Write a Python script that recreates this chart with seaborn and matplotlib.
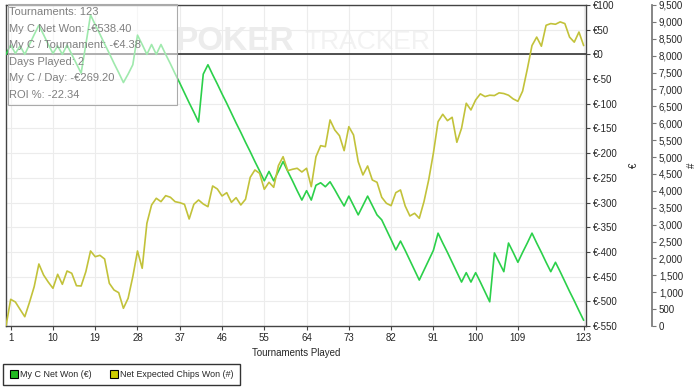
import matplotlib
matplotlib.use("Agg")
import matplotlib.pyplot as plt
import seaborn as sns
import pandas as pd
from matplotlib.lines import Line2D
from matplotlib.patches import Rectangle

# --- Data ---
TOURNAMENTS = list(range(0, 124))

NET_WON = [
    0, 19, 2, 17, 0, 20, 40, 59, 40, 20,
    2, 17, 0, 19, 0, -19, -38, 20, 80, 60,
    41, 21, 2, -18, -37, -57, -40, -21, 39, 20,
    0, 20, 0, 20, 0, -19, -39, -58, -78, -98,
    -117, -137, -40, -21, -41, -60, -80, -99, -119, -139,
    -158, -178, -197, -217, -236, -256, -237, -256, -237, -217,
    -237, -256, -276, -295, -276, -295, -265, -260, -268, -258,
    -274, -291, -307, -287, -306, -325, -306, -287, -306, -325,
    -335, -355, -375, -396, -378, -397, -417, -437, -457, -437,
    -417, -397, -362, -382, -401, -421, -441, -461, -442, -461,
    -442, -461, -481, -501, -402, -421, -440, -382, -401, -421,
    -401, -382, -362, -382, -401, -421, -440, -421, -440, -460,
    -480, -499, -519, -538.4,
]

EXPECTED_CHIPS = [
    0, 790, 710, 490, 275, 700, 1163, 1835, 1510, 1300,
    1116, 1530, 1234, 1628, 1560, 1193, 1184, 1607, 2220, 2051,
    2092, 1983, 1264, 1066, 986, 524, 820, 1460, 2220, 1708,
    3040, 3582, 3780, 3680, 3857, 3810, 3680, 3650, 3602, 3167,
    3602, 3730, 3611, 3531, 4144, 4055, 3848, 3946, 3661, 3798,
    3582, 3750, 4400, 4618, 4520, 4046, 4253, 4105, 4745, 5011,
    4597, 4638, 4668, 4558, 4668, 4123, 5011, 5337, 5307, 6098,
    5802, 5633, 5189, 5899, 5654, 4863, 4470, 4736, 4322, 4253,
    3810, 3632, 3561, 3946, 4026, 3552, 3256, 3336, 3188, 3680,
    4322, 5112, 6047, 6266, 6077, 6177, 5437, 5852, 6592, 6394,
    6690, 6870, 6790, 6830, 6820, 6900, 6880, 6830, 6720, 6650,
    6950, 7600, 8300, 8550, 8280, 8900, 8950, 8930, 9000, 8950,
    8550, 8400, 8700, 8300,
]

X_TICKS = [1, 10, 19, 28, 37, 46, 55, 64, 73, 82, 91, 100, 109, 123]
EURO_TICKS = list(range(-550, 101, 50))
CHIP_TICKS = list(range(0, 9501, 500))

INFO_LINES = [
    "Tournaments: 123",
    "My C Net Won: -€538.40",
    "My C / Tournament: -€4.38",
    "Days Played: 2",
    "My C / Day: -€269.20",
    "ROI %: -22.34",
]

GREEN = "#2bd04a"
YELLOW = "#c2c23a"


def main():
    df = pd.DataFrame({
        "Tournament": TOURNAMENTS,
        "NetWon": NET_WON,
        "Chips": EXPECTED_CHIPS,
    })

    sns.set_theme(style="white")
    plt.rcParams["font.family"] = ["Liberation Sans", "DejaVu Sans"]

    fig = plt.figure(figsize=(7, 3.9), dpi=100)
    ax = fig.add_axes([6 / 700, 1 - 326 / 390, 580 / 700, 321 / 390])
    ax2 = ax.twinx()

    # watermark behind everything
    ax.text(0.292, 0.885, "POKER", transform=ax.transAxes, fontsize=24,
            fontweight="bold", color="#ececec", ha="left", va="center", zorder=0)
    ax.text(0.515, 0.885, "TRACKER", transform=ax.transAxes, fontsize=19,
            color="#f2f2f2", ha="left", va="center", zorder=0)

    # grid
    for x in X_TICKS:
        ax.axvline(x, color="#ececec", lw=0.8, zorder=1)
    for y in EURO_TICKS:
        ax.axhline(y, color="#ececec", lw=0.8, zorder=1)
    ax.axhline(0, color="#333333", lw=1.2, zorder=2)

    sns.lineplot(data=df, x="Tournament", y="NetWon", ax=ax, color=GREEN,
                 lw=1.2, zorder=3)
    sns.lineplot(data=df, x="Tournament", y="Chips", ax=ax2, color=YELLOW,
                 lw=1.2, zorder=3)

    ax.set_xlim(0, 123.5)
    ax.set_ylim(-550, 100)
    ax2.set_ylim(0, 9500)

    ax.set_xticks(X_TICKS)
    ax.set_xticklabels([str(t) for t in X_TICKS])
    ax.set_xlabel("Tournaments Played", fontsize=7)
    ax.xaxis.set_label_coords(0.5, -0.07)

    ax.yaxis.tick_right()
    ax.yaxis.set_label_position("right")
    ax.set_yticks(EURO_TICKS)
    ax.set_yticklabels([f"€{v}" for v in EURO_TICKS])
    ax.set_ylabel("€", fontsize=7, rotation=90, labelpad=8)

    ax2.set_yticks(CHIP_TICKS)
    ax2.set_yticklabels([f"{v:,}" for v in CHIP_TICKS])
    ax2.set_ylabel("#", fontsize=7, rotation=90, labelpad=3)
    ax2.spines["right"].set_position(("outward", 47.5))
    ax2.spines["right"].set_color("#777777")
    for s in ["left", "top", "bottom"]:
        ax2.spines[s].set_visible(False)

    for s in ax.spines.values():
        s.set_color("#444444")
        s.set_linewidth(1.0)

    ax.tick_params(axis="x", direction="out", length=3, width=0.8,
                   color="#444444", pad=2, bottom=True, labelsize=7)
    ax.tick_params(axis="y", direction="out", length=3, width=0.8,
                   color="#444444", pad=2, right=True, left=False,
                   labelsize=7)
    ax2.tick_params(axis="y", direction="out", length=3, width=0.8,
                    color="#777777", pad=2, labelsize=7)

    # info box (translucent, on top of the lines)
    box = Rectangle((8 / 700, 1 - 105 / 390), 169 / 700, 101 / 390,
                    transform=fig.transFigure, facecolor="white", alpha=0.55,
                    edgecolor="none", zorder=10)
    fig.patches.append(box)
    border = Rectangle((8 / 700, 1 - 105 / 390), 169 / 700, 101 / 390,
                       transform=fig.transFigure, facecolor="none",
                       edgecolor="#aaaaaa", lw=0.8, zorder=11)
    fig.patches.append(border)
    for i, line in enumerate(INFO_LINES):
        fig.text(9 / 700, 1 - (12 + i * 16.6) / 390, line, fontsize=8,
                 color="#7f7f7f", ha="left", va="center", zorder=12)

    # legend
    handles = [
        Line2D([], [], marker="s", ls="none", markersize=5.5,
               markerfacecolor="#22bb22", markeredgecolor="black",
               markeredgewidth=0.8, label="My C Net Won (€)"),
        Line2D([], [], marker="s", ls="none", markersize=5.5,
               markerfacecolor="#cccc00", markeredgecolor="black",
               markeredgewidth=0.8, label="Net Expected Chips Won (#)"),
    ]
    leg = fig.legend(handles=handles, loc="lower left",
                     bbox_to_anchor=(3 / 700, 5 / 390), ncol=2, fontsize=6.4,
                     frameon=True, fancybox=False, handletextpad=0.2,
                     columnspacing=2.0, borderpad=0.7, handlelength=1.0,
                     borderaxespad=0)
    leg.get_frame().set_edgecolor("black")
    leg.get_frame().set_linewidth(1.0)

    fig.savefig("out.png", dpi=100)


if __name__ == "__main__":
    main()
